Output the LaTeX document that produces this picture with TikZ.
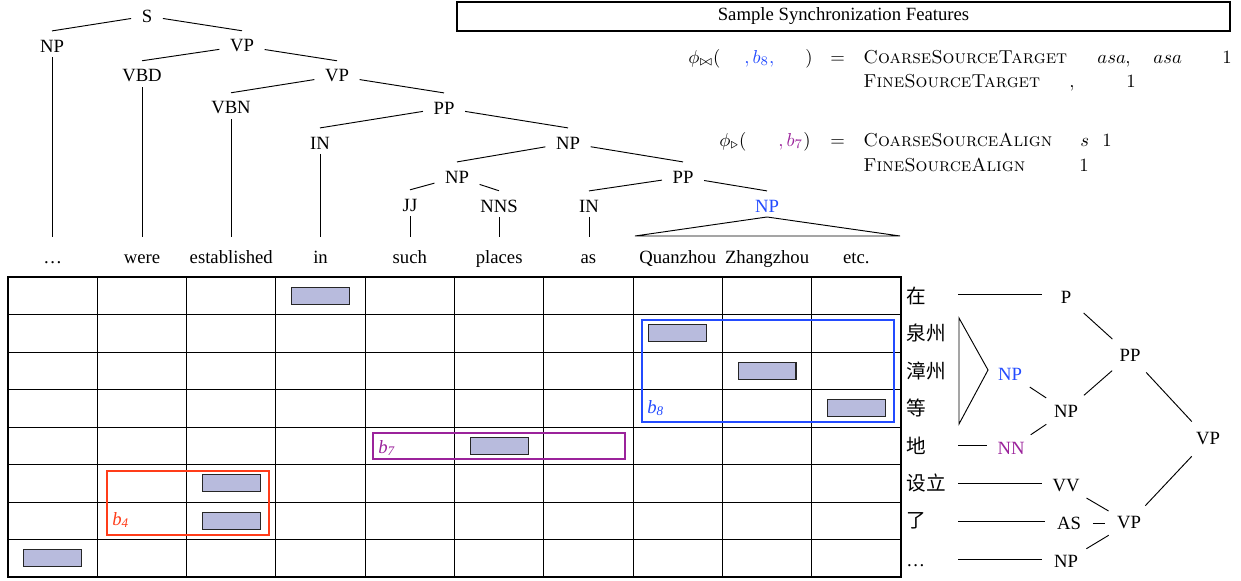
\documentclass[tikz,border=0pt]{standalone}
\usepackage{fontspec}
\newfontfamily\tms{Liberation Serif}
\newfontfamily\cjk{Noto Sans CJK SC}
\definecolor{bred}{RGB}{255,60,25}
\definecolor{bpurp}{RGB}{155,35,155}
\definecolor{bblue}{RGB}{35,75,255}
\definecolor{afill}{RGB}{184,187,221}
\begin{document}
\begin{tikzpicture}[x=0.5348pt,y=-0.5348pt,
  tl/.style={font=\tms, inner xsep=5.5pt, inner ysep=2.4pt},
  tw/.style={font=\tms, anchor=base, inner sep=0pt},
  rt/.style={font=\tms, circle, minimum size=25pt, inner sep=0pt},
  cw/.style={font={\cjk\fontsize{10.5}{12}\selectfont}, anchor=west, inner sep=0pt},
  feat/.style={anchor=base west, inner sep=0pt},
  edge/.style={line width=0.5pt},
  gridline/.style={line width=0.5pt},
  abox/.style={draw=black!85, line width=0.6pt, fill=afill, minimum width=31pt, minimum height=9pt, inner sep=0pt},
  bbox/.style={line width=1.2pt},
  blab/.style={font=\tms\itshape, anchor=base west, inner sep=0pt}
]
\useasboundingbox (0,0) rectangle (1241,580);

% ---------- header ----------
\node[draw, line width=0.6pt, minimum width=413.4pt, minimum height=15.5pt, inner sep=0pt, font=\tms] (hdr) at (843.5,16.5) {Sample Synchronization Features};

% ---------- features ----------
\node[feat] (f1a) at (688,63) {$\phi_{\bowtie}($};
\node[feat, text=bblue] (f1b) at (744,63) {$,b_8,$};
\node[feat] (f1c) at (805,63) {$)$};
\node[feat] (f1d) at (830,63) {$=$};
\node[feat] (f1e) at (863,63) {\textsc{CoarseSourceTarget}};
\node[feat] (f1f) at (1097,63) {$asa$};
\node[feat] (f1g) at (1125,63) {$,$};
\node[feat] (f1h) at (1153,63) {$asa$};
\node[feat] (f1i) at (1222,63) {$1$};
\node[feat] (f2a) at (863,87) {\textsc{FineSourceTarget}};
\node[feat] (f2b) at (1069,87) {$,$};
\node[feat] (f2c) at (1126,87) {$1$};
\node[feat] (f3a) at (719,146) {$\phi_{\triangleright}($};
\node[feat, text=bpurp] (f3b) at (778,146) {$,b_7$};
\node[feat] (f3c) at (803,146) {$)$};
\node[feat] (f3d) at (830,146) {$=$};
\node[feat] (f3e) at (863,146) {\textsc{CoarseSourceAlign}};
\node[feat] (f3f) at (1080,146) {$s$};
\node[feat] (f3g) at (1102,146) {$1$};
\node[feat] (f4a) at (863,171) {\textsc{FineSourceAlign}};
\node[feat] (f4b) at (1079,171) {$1$};

% ---------- English tree ----------
\node[tl] (S)   at (147,16) {S};
\node[tl] (NPa) at (52,46) {NP};
\node[tl] (VPa) at (242,46) {VP};
\node[tl] (VBD) at (142,76) {VBD};
\node[tl] (VPb) at (337,76) {VP};
\node[tl] (VBN) at (231,108) {VBN};
\node[tl] (PPa) at (444,108) {PP};
\node[tl] (INa) at (320,143) {IN};
\node[tl] (NPc) at (568,143) {NP};
\node[tl] (NPd) at (457,177) {NP};
\node[tl] (PPb) at (683,177) {PP};
\node[tl] (JJ)  at (410,205) {JJ};
\node[tl] (NNS) at (499,206) {NNS};
\node[tl] (INb) at (589,206) {IN};
\node[tl, text=bblue] (NPe) at (767,206) {NP};

\foreach \p/\c in {S/NPa,S/VPa,VPa/VBD,VPa/VPb,VPb/VBN,VPb/PPa,PPa/INa,PPa/NPc,NPc/NPd,NPc/PPb,NPd/JJ,NPd/NNS,PPb/INb,PPb/NPe}
  \draw[edge] (\p) -- ([yshift=2.2pt]\c.north);

\node[tw] (w0) at (52.65,263) {\ldots};
\node[tw] (w1) at (141.95,263) {were};
\node[tw] (w2) at (231.25,263) {established};
\node[tw] (w3) at (320.55,263) {in};
\node[tw] (w4) at (409.85,263) {such};
\node[tw] (w5) at (499.15,263) {places};
\node[tw] (w6) at (588.45,263) {as};
\node[tw] (w7) at (677.75,263) {Quanzhou};
\node[tw] (w8) at (767.05,263) {Zhangzhou};
\node[tw] (w9) at (856.35,263) {etc.};

\coordinate (wtop) at (0,237);
\foreach \n in {NPa,VBD,VBN,INa,JJ,NNS,INb}
  \draw[edge] (\n.south) -- (\n.south |- wtop);
\coordinate (trl) at (635,236);
\coordinate (trr) at (900,236);
\draw[edge] (NPe.south) -- (trl) -- (trr) -- cycle;

% ---------- grid ----------
\foreach \i in {1,...,9}
  \draw[gridline] ({8+\i*89.3},277) -- ({8+\i*89.3},577);
\foreach \j in {1,...,7}
  \draw[gridline] (8,{277+\j*37.5}) -- (901,{277+\j*37.5});
\draw[line width=1.1pt] (8,277) rectangle (901,577);

% alignment boxes (column/row)
\foreach \c/\r in {3/0,7/1,8/2,9/3,5/4,2/5,2/6,0/7}
  \node[abox] at ({8+89.3*(\c+0.5)},{277+37.5*(\r+0.5)}) {};

% coloured blocks
\draw[bbox, draw=bred] (107,471) rectangle (269,535);
\node[blab, text=bred] (b4) at (112,525) {b\textsubscript{4}};
\draw[bbox, draw=bpurp] (373,433) rectangle (625,459);
\node[blab, text=bpurp] (b7) at (378,453) {b\textsubscript{7}};
\draw[bbox, draw=bblue] (642,320) rectangle (894,422);
\node[blab, text=bblue] (b8) at (647,413) {b\textsubscript{8}};

% ---------- Chinese side ----------
\node[cw] (c0) at (906,295.8) {在};
\node[cw] (c1) at (906,333.3) {泉州};
\node[cw] (c2) at (906,370.8) {漳州};
\node[cw] (c3) at (906,408.3) {等};
\node[cw] (c4) at (906,445.8) {地};
\node[cw] (c5) at (906,483.3) {设立};
\node[cw] (c6) at (906,520.8) {了};
\node[font=\tms, anchor=base west, inner sep=0pt] (c7) at (906,566) {\ldots};

\node[rt] (P)   at (1066,297) {P};
\node[rt] (PP)  at (1130,355) {PP};
\node[rt] (NPr) at (1066,411) {NP};
\node[rt, text=bblue] (NPbl) at (1010,374) {NP};
\node[rt, text=bpurp] (NN) at (1011,448) {NN};
\node[rt] (VV)  at (1066,486) {VV};
\node[rt] (AS)  at (1069,523) {AS};
\node[rt] (VPl) at (1129,523) {VP};
\node[rt] (NPz) at (1066,561) {NP};
\node[rt] (VPr) at (1208,439) {VP};

\foreach \a/\b in {P/PP,NPr/PP,PP/VPr,NPbl/NPr,NN/NPr,VV/VPl,AS/VPl,NPz/VPl,VPl/VPr}
  \draw[edge] (\a) -- (\b);

\coordinate (z0) at (958,294);
\coordinate (z4) at (958,445);
\coordinate (z5) at (958,483);
\coordinate (z6) at (958,521);
\coordinate (z7) at (958,559);
\draw[edge] (z0) -- (z0 -| P.west);
\draw[edge] (z4) -- (z4 -| NN.west);
\draw[edge] (z5) -- (z5 -| VV.west);
\draw[edge] (z6) -- (z6 -| AS.west);
\draw[edge] (z7) -- (z7 -| NPz.west);
\coordinate (tq1) at (959,318);
\coordinate (tq2) at (959,424);
\coordinate (tqa) at (988,370);
\draw[edge] (tq1) -- (tqa) -- (tq2) -- cycle;
\end{tikzpicture}
\end{document}
